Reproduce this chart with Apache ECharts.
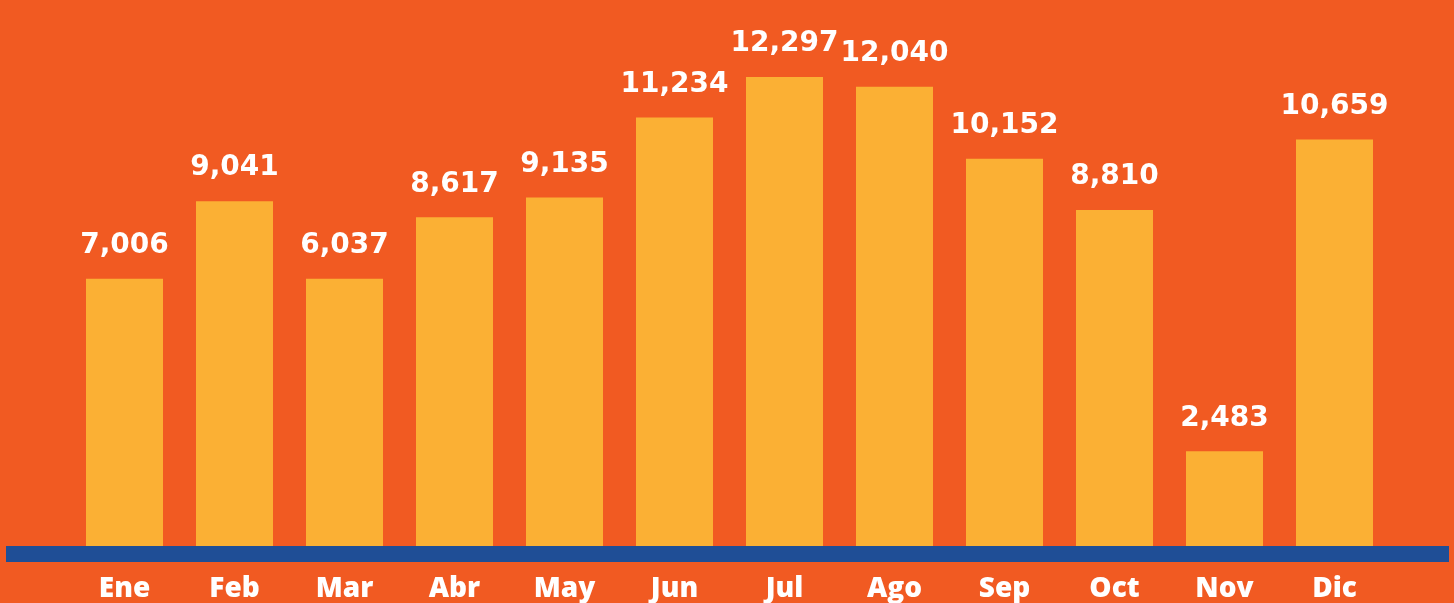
<!DOCTYPE html>
<html><head><meta charset="utf-8">
<script src="https://cdn.jsdelivr.net/npm/echarts@6/dist/echarts.min.js"></script>
<style>html,body{margin:0;padding:0;background:#F15A22;}#c{width:1454px;height:603px;}</style>
</head><body><div id="c"></div>
<script>
const categories = ['Ene','Feb','Mar','Abr','May','Jun','Jul','Ago','Sep','Oct','Nov','Dic'];
// bar heights as drawn in the reference
const barValues = [7006, 9041, 7006, 8617, 9135, 11234, 12297, 12040, 10152, 8810, 2483, 10659];
// value labels as printed in the reference
const labelValues = [7006, 9041, 6037, 8617, 9135, 11234, 12297, 12040, 10152, 8810, 2483, 10659];

const chart = echarts.init(document.getElementById('c'), null, {renderer:'canvas'});
chart.setOption({
  backgroundColor: '#F15A22',
  animation: false,
  grid: {left: 69.5, right: 1454 - 1389.5, top: 12, bottom: 57},
  graphic: [{type:'rect', shape:{x:6, y:546, width:1443, height:16}, style:{fill:'#1F4E96'}, z:10}],
  xAxis: {
    type:'category', data: categories,
    axisLine:{show:false}, axisTick:{show:false},
    axisLabel:{color:'#fff', fontFamily:'Open Sans', fontWeight:800, fontSize:28, margin:29}
  },
  yAxis: {type:'value', min:0, max:14000, show:false, splitLine:{show:false}},
  series: [{
    type:'bar', data: barValues, barWidth:77,
    itemStyle:{color:'#FBB034'},
    label:{show:true, position:'top', distance:19, color:'#fff', fontFamily:'DejaVu Sans', fontWeight:'bold', fontSize:28,
      formatter: p => labelValues[p.dataIndex].toLocaleString('en-US')}
  }]
});
</script></body></html>
